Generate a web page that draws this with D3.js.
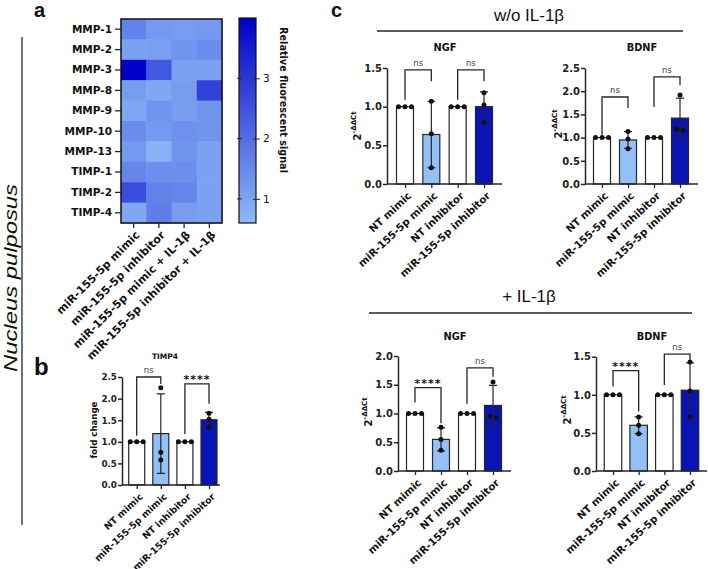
<!DOCTYPE html>
<html>
<head>
<meta charset="utf-8">
<script src="https://cdn.jsdelivr.net/npm/d3@7"></script>
<style>
  body { margin: 0; background: #fff; }
  svg { display: block; font-family: "Liberation Sans", Arial, sans-serif; }
</style>
</head>
<body>
<script>
"use strict";

// ---- panel a : heatmap ----
const heatRows = ["MMP-1", "MMP-2", "MMP-3", "MMP-8", "MMP-9", "MMP-10", "MMP-13", "TIMP-1", "TIMP-2", "TIMP-4"];
const heatCols = ["miR-155-5p mimic", "miR-155-5p inhibitor", "miR-155-5p mimic + IL-1β", "miR-155-5p inhibitor + IL-1β"];
const heatValues = [
  [1.6, 1.2, 1.15, 1.2],
  [1.05, 1.1, 1.3, 1.45],
  [4.0, 2.4, 1.05, 1.05],
  [1.15, 0.95, 1.15, 2.8],
  [0.95, 1.3, 1.15, 1.3],
  [1.45, 1.2, 1.35, 1.3],
  [1.2, 0.75, 1.3, 1.05],
  [1.55, 1.4, 1.4, 1.05],
  [2.6, 1.65, 1.55, 1.05],
  [0.95, 1.7, 1.15, 1.05]
];
const heatTicks = [1, 2, 3];

// ---- bar charts (b, c) ----
const groups = ["NT mimic", "miR-155-5p mimic", "NT inhibitor", "miR-155-5p inhibitor"];
const barFills = ["#ffffff", "#93c0f6", "#ffffff", "#0a14b4"];

// b: TIMP4
const timp4Mean = [1, 1.19, 1, 1.51];
const timp4Sd = [0, 0.92, 0, 0.17];
const timp4Pts = [[1, 1, 1], [2.25, 0.76, 0.58], [1, 1, 1], [1.66, 1.52, 1.34]];
const timp4Sig = [[0, 1, 2.5, 1.14, 2.34, "ns"], [2, 3, 2.34, 1.18, 1.88, "****"]];

// c: NGF w/o IL-1β
const ngfMean = [1, 0.64, 1, 1.0];
const ngfSd = [0, 0.43, 0, 0.19];
const ngfPts = [[1, 1, 1], [1.07, 0.65, 0.21], [1, 1, 1], [1.18, 1.02, 0.8]];
const ngfSig = [[0, 1, 1.475, 1.09, 1.33, "ns"], [2, 3, 1.475, 1.09, 1.33, "ns"]];

// c: BDNF w/o IL-1β
const bdnfMean = [1, 0.95, 1, 1.42];
const bdnfSd = [0, 0.18, 0, 0.43];
const bdnfPts = [[1, 1, 1], [1.13, 0.97, 0.76], [1, 1, 1], [1.92, 1.18, 1.16]];
const bdnfSig = [[0, 1, 1.875, 1.06, 1.64, "ns"], [2, 3, 2.31, 1.66, 2.13, "ns"]];

// c: NGF + IL-1β
const ngfIlMean = [1, 0.55, 1, 1.14];
const ngfIlSd = [0, 0.2, 0, 0.35];
const ngfIlPts = [[1, 1, 1], [0.76, 0.55, 0.36], [1, 1, 1], [1.55, 0.95, 0.93]];
const ngfIlSig = [[0, 1, 1.45, 1.19, 0.83, "****"], [2, 3, 1.795, 1.17, 1.64, "ns"]];

// c: BDNF + IL-1β
const bdnfIlMean = [1, 0.6, 1, 1.06];
const bdnfIlSd = [0, 0.11, 0, 0.36];
const bdnfIlPts = [[1, 1, 1], [0.71, 0.6, 0.49], [1, 1, 1], [1.43, 1.05, 0.71]];
const bdnfIlSig = [[0, 1, 1.316, 1.11, 0.78, "****"], [2, 3, 1.535, 1.13, 1.46, "ns"]];

const ink = "#262626";
const FONT = "DejaVu Sans, Verdana, sans-serif";   // wide sans, like the prism export

const svg = d3.select("body").append("svg")
  .attr("width", 708).attr("height", 569);
svg.append("rect").attr("width", 708).attr("height", 569).attr("fill", "#fff");

// panel letters
const letter = (t, x, y, s) => svg.append("text").attr("x", x).attr("y", y)
  .attr("font-size", s).attr("font-weight", "bold").attr("fill", "#111").text(t);
letter("a", 34, 17, 20);
letter("b", 34, 375, 24);
letter("c", 331, 17, 20);

// Nucleus pulposus side label
svg.append("line").attr("x1", 22).attr("x2", 22).attr("y1", 37).attr("y2", 525)
  .attr("stroke", ink).attr("stroke-width", 1.3);
svg.append("text").attr("transform", "translate(17,278) rotate(-90)")
  .attr("text-anchor", "middle").attr("font-size", 19).attr("font-style", "italic")
  .attr("textLength", 188).attr("lengthAdjust", "spacingAndGlyphs")
  .attr("fill", "#111").text("Nucleus pulposus");

// ---------- heatmap ----------
const hx = d3.scaleBand().domain(heatCols).range([121, 222]);
const hy = d3.scaleBand().domain(heatRows).range([19, 223]);
const heatColor = d3.scaleLinear().domain([0.6, 4.0]).range(["#8ebaf8", "#0000c8"]);

const cells = [];
heatRows.forEach((r, i) => heatCols.forEach((c, j) => cells.push({ r, c, v: heatValues[i][j] })));

svg.append("g").selectAll("rect").data(cells).join("rect")
  .attr("x", d => hx(d.c)).attr("y", d => hy(d.r))
  .attr("width", hx.bandwidth() + 0.5).attr("height", hy.bandwidth() + 0.5)
  .attr("fill", d => heatColor(d.v));
svg.append("rect").attr("x", 121).attr("y", 19).attr("width", 101).attr("height", 204)
  .attr("fill", "none").attr("stroke", "#111").attr("stroke-width", 1.5);

const hLeft = svg.append("g").attr("transform", "translate(121,0)")
  .call(d3.axisLeft(hy).tickSize(6).tickSizeOuter(0));
hLeft.select(".domain").remove();
hLeft.selectAll("line").attr("stroke", ink).attr("stroke-width", 1.3);
hLeft.selectAll("text").attr("font-size", 10.5).attr("font-weight", "bold").attr("fill", "#111")
  .attr("font-family", FONT);

const hBottom = svg.append("g").attr("transform", "translate(0,223)")
  .call(d3.axisBottom(hx).tickSize(5).tickSizeOuter(0));
hBottom.select(".domain").remove();
hBottom.selectAll("line").attr("stroke", ink).attr("stroke-width", 1.3);
hBottom.selectAll("text").attr("font-size", 11).attr("font-weight", "bold").attr("fill", "#111")
  .attr("font-family", FONT)
  .attr("text-anchor", "end").attr("x", 0).attr("y", 0).attr("dy", "0.35em")
  .attr("transform", "translate(4,10) rotate(-45)");

// colorbar
const cb = d3.scaleLinear().domain([0.6, 4.0]).range([223, 18]);
const grad = svg.append("defs").append("linearGradient").attr("id", "cbgrad")
  .attr("x1", 0).attr("x2", 0).attr("y1", 1).attr("y2", 0);
grad.selectAll("stop").data([0.6, 4.0]).join("stop")
  .attr("offset", (d, i) => i).attr("stop-color", d => heatColor(d));
svg.append("rect").attr("x", 239).attr("y", 18).attr("width", 17).attr("height", 205)
  .attr("fill", "url(#cbgrad)").attr("stroke", "#111").attr("stroke-width", 1.2);
const cbAxis = svg.append("g").attr("transform", "translate(256,0)")
  .call(d3.axisRight(cb).tickValues(heatTicks).tickFormat(d3.format("d")).tickSize(4));
cbAxis.select(".domain").remove();
cbAxis.selectAll("line").attr("stroke", ink).attr("x1", -3);
cbAxis.selectAll("text").attr("font-size", 10.5).attr("fill", "#111")
  .attr("font-family", FONT);
svg.append("g").selectAll("line").data(heatTicks).join("line")
  .attr("x1", 237).attr("x2", 242).attr("y1", d => cb(d)).attr("y2", d => cb(d))
  .attr("stroke", ink);
svg.append("text").attr("transform", "translate(280,100) rotate(90)")
  .attr("text-anchor", "middle").attr("font-size", 9.7).attr("font-weight", "bold")
  .attr("font-family", FONT).attr("fill", "#111").text("Relative fluorescent signal");

// ---------- bar charts ----------
function spread(vals) {
  const idx = vals.map((v, i) => i).sort((a, b) => vals[b] - vals[a]);
  const offs = vals.map(() => 0);
  let cluster = [idx[0]];
  const flush = () => cluster.forEach((k, n) => { offs[k] = (n - (cluster.length - 1) / 2) * 6.5; });
  for (let n = 1; n < idx.length; n++) {
    if (Math.abs(vals[idx[n]] - vals[cluster[cluster.length - 1]]) < 0.1) cluster.push(idx[n]);
    else { flush(); cluster = [idx[n]]; }
  }
  flush();
  return offs;
}

function barPanel(o) {
  const g = svg.append("g");
  const x = d3.scalePoint().domain(groups).range([o.c0, o.c1]);
  const y = d3.scaleLinear().domain([0, o.yMax]).range([o.y0, o.yTop]);

  g.selectAll("rect.bar").data(o.mean).join("rect").attr("class", "bar")
    .attr("x", (d, i) => x(groups[i]) - o.bw / 2).attr("y", d => y(d))
    .attr("width", o.bw).attr("height", d => o.y0 - y(d))
    .attr("fill", (d, i) => barFills[i]).attr("stroke", ink).attr("stroke-width", 1.2);

  // error bars
  o.sd.forEach((s, i) => {
    if (!s) return;
    const cx = x(groups[i]), lo = y(o.mean[i] - s), hi = y(o.mean[i] + s);
    g.append("path")
      .attr("d", `M${cx},${lo}V${hi}M${cx - 4},${hi}H${cx + 4}M${cx - 4},${lo}H${cx + 4}`)
      .attr("stroke", ink).attr("stroke-width", 1.2).attr("fill", "none");
  });

  // points
  o.pts.forEach((p, i) => {
    const offs = spread(p);
    g.selectAll(null).data(p).join("circle")
      .attr("cx", (d, k) => x(groups[i]) + offs[k]).attr("cy", d => y(d))
      .attr("r", 2.5).attr("fill", "#111");
  });

  // axes
  const ya = g.append("g").attr("transform", `translate(${o.x0},0)`)
    .call(d3.axisLeft(y).tickValues(d3.range(0, o.yMax + 0.01, 0.5)).tickFormat(d3.format(".1f"))
      .tickSize(4).tickSizeOuter(0));
  ya.select(".domain").attr("stroke", ink).attr("stroke-width", 1.5);
  ya.selectAll("line").attr("stroke", ink).attr("stroke-width", 1.5);
  ya.selectAll("text").attr("font-size", o.tick).attr("font-weight", "bold").attr("fill", "#222")
    .attr("font-family", FONT).attr("x", -5);

  const xa = g.append("g").attr("transform", `translate(0,${o.y0})`)
    .call(d3.axisBottom(x).tickSize(4).tickSizeOuter(0));
  xa.select(".domain").remove();
  xa.selectAll("line").attr("stroke", ink).attr("stroke-width", 1.3);
  xa.selectAll("text").attr("font-size", o.xsize).attr("font-weight", "bold").attr("fill", "#111")
    .attr("font-family", FONT)
    .attr("text-anchor", "end").attr("x", 0).attr("y", 0).attr("dy", "0.35em")
    .attr("transform", "translate(4,10) rotate(-43)");
  g.append("line").attr("x1", o.x0).attr("x2", o.x1).attr("y1", o.y0).attr("y2", o.y0)
    .attr("stroke", ink).attr("stroke-width", 1.5);

  // significance brackets
  o.sig.forEach(([a, b, top, l, r, lab]) => {
    const xa1 = x(groups[a]), xb = x(groups[b]);
    g.append("path").attr("d", `M${xa1},${y(l)}V${y(top)}H${xb}V${y(r)}`)
      .attr("fill", "none").attr("stroke", ink).attr("stroke-width", 1.3);
    const star = lab !== "ns";
    g.append("text").attr("x", (xa1 + xb) / 2).attr("y", y(top) - (star ? 1 : 4))
      .attr("text-anchor", "middle").attr("font-size", star ? 11 : 8.5)
      .attr("font-family", FONT).attr("letter-spacing", star ? 1 : 0)
      .attr("font-weight", star ? "bold" : "normal").attr("fill", star ? "#111" : "#444")
      .text(lab);
  });

  // titles
  g.append("text").attr("x", o.tx).attr("y", o.ty).attr("text-anchor", "middle")
    .attr("font-family", FONT)
    .attr("font-size", o.tsize).attr("font-weight", "bold").attr("fill", "#111").text(o.title);
  const yt = g.append("text").attr("transform", `translate(${o.ytx},${o.yty}) rotate(-90)`)
    .attr("font-family", FONT)
    .attr("text-anchor", "middle").attr("font-weight", "bold").attr("fill", "#111");
  if (o.ytitle) {
    yt.attr("font-size", 8.6).text(o.ytitle);
  } else {
    yt.append("tspan").attr("font-size", 10).text("2");
    yt.append("tspan").attr("font-size", 7).attr("dy", -5).text("-ΔΔCt");
  }
}

barPanel({ x0: 122, x1: 220, c0: 136.7, c1: 209, bw: 16, y0: 485, yTop: 377, yMax: 2.5,
  mean: timp4Mean, sd: timp4Sd, pts: timp4Pts, sig: timp4Sig, tick: 8.8, tsize: 7.5, xsize: 9.3,
  title: "TIMP4", tx: 165, ty: 359, ytitle: "fold change", ytx: 97, yty: 430 });

barPanel({ x0: 387, x1: 502, c0: 405, c1: 484, bw: 17, y0: 184, yTop: 68, yMax: 1.5,
  mean: ngfMean, sd: ngfSd, pts: ngfPts, sig: ngfSig, tick: 10, tsize: 9.8, xsize: 10.2,
  title: "NGF", tx: 445, ty: 51, ytx: 361, yty: 126 });

barPanel({ x0: 585, x1: 698, c0: 602, c1: 680, bw: 17, y0: 184, yTop: 68, yMax: 2.5,
  mean: bdnfMean, sd: bdnfSd, pts: bdnfPts, sig: bdnfSig, tick: 10, tsize: 9.8, xsize: 10.2,
  title: "BDNF", tx: 642, ty: 51, ytx: 562, yty: 124 });

barPanel({ x0: 398, x1: 511, c0: 415, c1: 493, bw: 17, y0: 471, yTop: 356, yMax: 2.0,
  mean: ngfIlMean, sd: ngfIlSd, pts: ngfIlPts, sig: ngfIlSig, tick: 10, tsize: 9.8, xsize: 10.2,
  title: "NGF", tx: 455, ty: 340, ytx: 372, yty: 412 });

barPanel({ x0: 596, x1: 707, c0: 613, c1: 690, bw: 17.5, y0: 471, yTop: 356.7, yMax: 1.5,
  mean: bdnfIlMean, sd: bdnfIlSd, pts: bdnfIlPts, sig: bdnfIlSig, tick: 10, tsize: 9.8, xsize: 10.2,
  title: "BDNF", tx: 652, ty: 340, ytx: 571, yty: 410 });

// section headers in c
const header = (t, x, y, x1, x2, ly) => {
  svg.append("text").attr("x", x).attr("y", y).attr("text-anchor", "middle")
    .attr("font-size", 17).attr("fill", "#111").text(t);
  svg.append("line").attr("x1", x1).attr("x2", x2).attr("y1", ly).attr("y2", ly)
    .attr("stroke", ink).attr("stroke-width", 1.3);
};
header("w/o IL-1β", 529, 21, 377, 683, 31);
header("+ IL-1β", 529, 302, 369, 692, 313);
</script>
</body>
</html>
